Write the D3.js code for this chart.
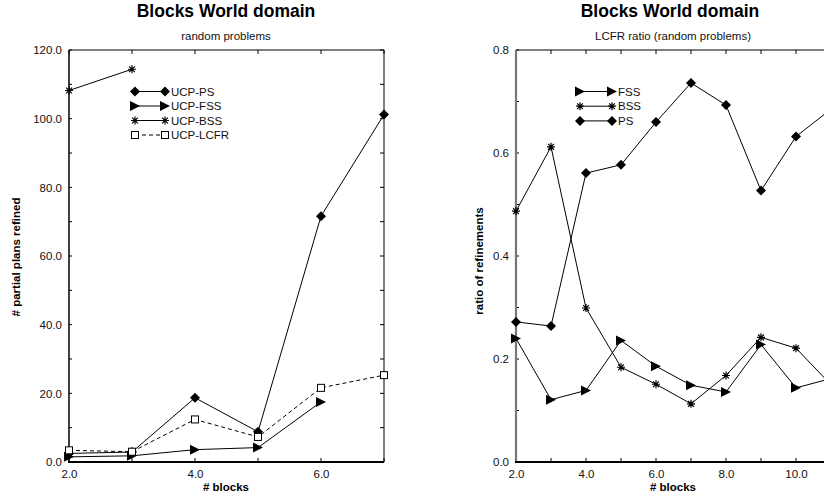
<!DOCTYPE html>
<html>
<head>
<meta charset="utf-8">
<script src="https://cdn.jsdelivr.net/npm/d3@7/dist/d3.min.js"></script>
<style>
  body { margin: 0; background: #fff; }
  svg { display: block; font-family: "Liberation Sans", Arial, sans-serif; }
</style>
</head>
<body>
<script>
// left panel: partial plans refined
let blocksA = [2, 3, 4, 5, 6, 7];
let ucpPS = [2.5, 2.9, 18.7, 8.8, 71.6, 101.2];
let ucpFSS = [1.5, 1.8, 3.6, 4.2, 17.5];
let ucpBSS = [108.2, 114.4];
let ucpLCFR = [3.4, 3.0, 12.4, 7.3, 21.6, 25.3];

// right panel: LCFR ratio
let blocksB = [2, 3, 4, 5, 6, 7, 8, 9, 10, 11];
let ratioFSS = [0.240, 0.121, 0.139, 0.236, 0.186, 0.149, 0.136, 0.228, 0.144, 0.162];
let ratioBSS = [0.487, 0.612, 0.299, 0.184, 0.151, 0.113, 0.168, 0.242, 0.221, 0.150];
let ratioPS = [0.272, 0.264, 0.561, 0.577, 0.660, 0.736, 0.693, 0.527, 0.632, 0.685];

let fmt = d3.format('.1f');

let svg = d3.select('body').append('svg')
    .attr('width', 824)
    .attr('height', 497);

// marker shapes
function marker(g, type, cx, cy) {
  if (type == 'diamond') {
    g.append('path').attr('d', 'M' + (cx - 5) + ',' + cy + 'L' + cx + ',' + (cy - 5) + 'L' + (cx + 5) + ',' + cy + 'L' + cx + ',' + (cy + 5) + 'Z')
      .attr('fill', '#000');
  } else if (type == 'triangle') {
    g.append('path').attr('d', 'M' + (cx - 5) + ',' + (cy - 5) + 'L' + (cx + 5) + ',' + cy + 'L' + (cx - 5) + ',' + (cy + 5) + 'Z')
      .attr('fill', '#000');
  } else if (type == 'star') {
    let r = 4, d = 2.9;
    g.append('path')
      .attr('d', 'M' + (cx - r) + ',' + cy + 'H' + (cx + r) + 'M' + cx + ',' + (cy - r) + 'V' + (cy + r)
        + 'M' + (cx - d) + ',' + (cy - d) + 'L' + (cx + d) + ',' + (cy + d)
        + 'M' + (cx - d) + ',' + (cy + d) + 'L' + (cx + d) + ',' + (cy - d))
      .attr('stroke', '#000').attr('stroke-width', 1.2);
  } else if (type == 'square') {
    g.append('rect').attr('x', cx - 3.5).attr('y', cy - 3.5).attr('width', 7).attr('height', 7)
      .attr('fill', '#fff').attr('stroke', '#000').attr('stroke-width', 1);
  }
}

function panel(cfg) {
  let x = d3.scaleLinear().domain(cfg.xDomain).range(cfg.xRange);
  let y = d3.scaleLinear().domain(cfg.yDomain).range([462, 50]);
  let g = svg.append('g');
  let x0 = cfg.xRange[0], x1 = cfg.xRange[1];

  // frame: top and right
  g.append('line').attr('x1', x0).attr('x2', x1).attr('y1', 50).attr('y2', 50)
    .attr('stroke', '#000').attr('stroke-width', 1);
  g.append('line').attr('x1', x1).attr('x2', x1).attr('y1', 50).attr('y2', 462)
    .attr('stroke', '#555').attr('stroke-width', 1.5);

  // inward ticks
  let xt = d3.range(cfg.xDomain[0], cfg.xDomain[1] + 0.001, 1);
  let yt = d3.range(cfg.yDomain[0], cfg.yDomain[1] + 1e-9, cfg.yMinor);
  xt.forEach(function(v) {
    g.append('line').attr('x1', x(v)).attr('x2', x(v)).attr('y1', 462).attr('y2', 458).attr('stroke', '#000');
    g.append('line').attr('x1', x(v)).attr('x2', x(v)).attr('y1', 50).attr('y2', 54).attr('stroke', '#000');
  });
  yt.forEach(function(v) {
    g.append('line').attr('x1', x0).attr('x2', x0 + 3).attr('y1', y(v)).attr('y2', y(v)).attr('stroke', '#000');
    g.append('line').attr('x1', x1).attr('x2', x1 - 4).attr('y1', y(v)).attr('y2', y(v)).attr('stroke', '#000');
  });

  // axes
  let xAxis = d3.axisBottom(x).tickValues(cfg.xLabels).tickSize(0).tickPadding(8).tickFormat(fmt);
  let yAxis = d3.axisLeft(y).tickValues(cfg.yLabels).tickSize(0).tickPadding(7).tickFormat(fmt);
  let gx = g.append('g').attr('transform', 'translate(0,462)').call(xAxis);
  let gy = g.append('g').attr('transform', 'translate(' + x0 + ',0)').call(yAxis);
  gx.select('.domain').remove();
  gy.select('.domain').remove();
  g.selectAll('.tick text').attr('font-size', 11.5).attr('font-family', '"Liberation Sans", Arial, sans-serif').attr('fill', '#111');

  g.append('line').attr('x1', x0).attr('x2', x0).attr('y1', 50).attr('y2', 462)
    .attr('stroke', cfg.leftColor).attr('stroke-width', cfg.leftWidth);
  g.append('line').attr('x1', x0 - 1).attr('x2', x1).attr('y1', 462).attr('y2', 462)
    .attr('stroke', '#000').attr('stroke-width', 1.8);

  // series
  cfg.series.forEach(function(s) {
    let pts = s.values.map(function(v, i) { return [cfg.blocks[i], v]; });
    let line = d3.line().x(function(d) { return x(d[0]); }).y(function(d) { return y(d[1]); });
    g.append('path').datum(pts).attr('d', line).attr('fill', 'none')
      .attr('stroke', '#000').attr('stroke-width', 1)
      .attr('stroke-dasharray', s.dash ? '4,3' : null);
    pts.forEach(function(d) { marker(g, s.marker, x(d[0]), y(d[1])); });
  });

  // legend
  cfg.series.slice().sort(function(a, b) { return a.legendRow - b.legendRow; }).forEach(function(s) {
    let ly = cfg.legendY + s.legendRow * cfg.legendStep;
    g.append('line').attr('x1', cfg.legendX[0]).attr('x2', cfg.legendX[1]).attr('y1', ly).attr('y2', ly)
      .attr('stroke', '#000').attr('stroke-width', 1).attr('stroke-dasharray', s.dash ? '4,3' : null);
    marker(g, s.marker, cfg.legendX[0], ly);
    marker(g, s.marker, cfg.legendX[1], ly);
    g.append('text').attr('x', cfg.legendX[1] + 6).attr('y', ly + 4).attr('font-size', 11.5).attr('fill', '#111').text(s.name);
  });

  // titles
  g.append('text').attr('x', cfg.titleX).attr('y', 17).attr('text-anchor', 'middle')
    .attr('font-size', 17.5).attr('font-weight', 'bold').text('Blocks World domain');
  g.append('text').attr('x', cfg.subX).attr('y', 39.5).attr('text-anchor', 'middle')
    .attr('font-size', 11.5).attr('fill', '#111').text(cfg.subtitle);
  g.append('text').attr('x', cfg.xLabelX).attr('y', 491).attr('text-anchor', 'middle')
    .attr('font-size', 11.5).attr('font-weight', 'bold').text('# blocks');
  g.append('text').attr('transform', 'translate(' + cfg.yLabelPos[0] + ',' + cfg.yLabelPos[1] + ') rotate(-90)')
    .attr('text-anchor', 'middle').attr('font-size', 11.5).attr('font-weight', 'bold').text(cfg.yLabel);
}

panel({
  blocks: blocksA,
  xDomain: [2, 7], xRange: [69, 384],
  yDomain: [0, 120], yMinor: 10,
  xLabels: [2, 4, 6], yLabels: [0, 20, 40, 60, 80, 100, 120],
  leftColor: '#000', leftWidth: 1.5,
  series: [
    { name: 'UCP-PS', values: ucpPS, marker: 'diamond', legendRow: 0 },
    { name: 'UCP-FSS', values: ucpFSS, marker: 'triangle', legendRow: 1 },
    { name: 'UCP-LCFR', values: ucpLCFR, marker: 'square', dash: true, legendRow: 3 },
    { name: 'UCP-BSS', values: ucpBSS, marker: 'star', legendRow: 2 }
  ],
  legendX: [135, 165], legendY: 91.5, legendStep: 14.5,
  titleX: 226, subX: 226, subtitle: 'random problems',
  xLabelX: 226, yLabel: '# partial plans refined', yLabelPos: [20, 257]
});

panel({
  blocks: blocksB,
  xDomain: [2, 12], xRange: [516, 866],
  yDomain: [0, 0.8], yMinor: 0.1,
  xLabels: [2, 4, 6, 8, 10], yLabels: [0, 0.2, 0.4, 0.6, 0.8],
  leftColor: '#777', leftWidth: 2.2,
  series: [
    { name: 'FSS', values: ratioFSS, marker: 'triangle', legendRow: 0 },
    { name: 'BSS', values: ratioBSS, marker: 'star', legendRow: 1 },
    { name: 'PS', values: ratioPS, marker: 'diamond', legendRow: 2 }
  ],
  legendX: [580, 612], legendY: 91.5, legendStep: 14.7,
  titleX: 670, subX: 673, subtitle: 'LCFR ratio (random problems)',
  xLabelX: 673, yLabel: 'ratio of refinements', yLabelPos: [483, 261]
});
</script>
</body>
</html>
